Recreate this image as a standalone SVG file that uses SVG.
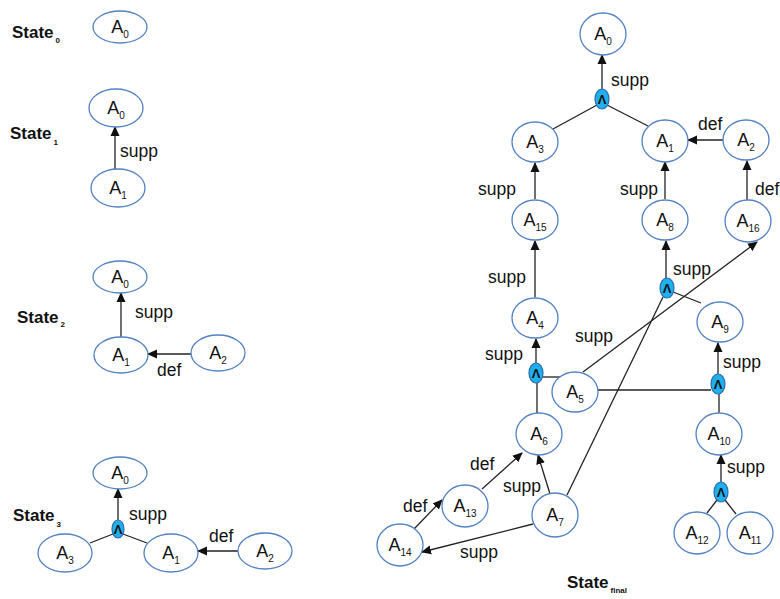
<svg xmlns="http://www.w3.org/2000/svg" width="780" height="599" viewBox="0 0 780 599">
<style>
.n{fill:#fff;stroke:#5282c2;stroke-width:1.3}
.and{fill:#1fb0ee;stroke:#2a6cb0;stroke-width:1.2}
.t{font-family:"Liberation Sans",Arial,sans-serif;font-size:18px;fill:#111;text-anchor:middle}
.s{font-size:10px}
.ta{font-family:"Liberation Sans",Arial,sans-serif;font-size:13px;font-weight:bold;fill:#111;text-anchor:middle}
.l{font-family:"Liberation Sans",Arial,sans-serif;font-size:17.5px;fill:#111}
.st{font-family:"Liberation Sans",Arial,sans-serif;font-size:17px;font-weight:bold;fill:#111}
.ss{font-size:8px}
.c line{stroke:#222;stroke-width:1.3}
.c line.a{marker-end:url(#ah)}
</style>
<defs>
<marker id="ah" markerWidth="10" markerHeight="10" refX="9" refY="5" orient="auto" markerUnits="userSpaceOnUse">
<path d="M0,0.5 L10,5 L0,9.5 Z" fill="#111"/>
</marker>
</defs>
<rect width="780" height="599" fill="#fff"/>

<g id="connectors" class="c">
<!-- State1 -->
<line class="a" x1="115" y1="169" x2="115" y2="127"/>
<!-- State2 -->
<line class="a" x1="121" y1="337" x2="121" y2="293"/>
<line class="a" x1="191" y1="354" x2="148" y2="354"/>
<!-- State3 -->
<line class="a" x1="118" y1="520" x2="118" y2="489"/>
<line x1="113" y1="534" x2="90" y2="543"/>
<line x1="123" y1="534" x2="147" y2="543"/>
<line class="a" x1="238" y1="551" x2="198" y2="551"/>
<!-- final -->
<line class="a" x1="602" y1="89" x2="602" y2="55"/>
<line x1="597" y1="105" x2="553" y2="129"/>
<line x1="607" y1="105" x2="648" y2="126"/>
<line class="a" x1="723" y1="140" x2="688" y2="140"/>
<line class="a" x1="535" y1="199" x2="535" y2="163"/>
<line class="a" x1="665" y1="199" x2="665" y2="162"/>
<line class="a" x1="747" y1="200" x2="747" y2="161"/>
<line class="a" x1="535" y1="297" x2="535" y2="241"/>
<line class="a" x1="536" y1="363" x2="536" y2="339"/>
<line x1="537" y1="413" x2="537" y2="383"/>
<line x1="543" y1="377" x2="561" y2="377"/>
<line class="a" x1="583" y1="372" x2="757" y2="242"/>
<line class="a" x1="666" y1="278" x2="666" y2="241"/>
<line x1="673" y1="292" x2="701" y2="303"/>
<line x1="663" y1="297" x2="567" y2="495"/>
<line class="a" x1="718" y1="374" x2="718" y2="343"/>
<line x1="598" y1="390" x2="711" y2="390"/>
<line x1="719" y1="413" x2="719" y2="394"/>
<line class="a" x1="721" y1="482" x2="721" y2="455"/>
<line x1="717" y1="500" x2="707" y2="513"/>
<line x1="725" y1="500" x2="736" y2="514"/>
<line class="a" x1="482" y1="489" x2="522" y2="453"/>
<line class="a" x1="414" y1="529" x2="442" y2="500"/>
<line class="a" x1="550" y1="494" x2="538" y2="455"/>
<line class="a" x1="533" y1="524" x2="422" y2="552"/>
</g>

<g id="edge-labels">
<text class="l" x="120" y="157">supp</text>
<text class="l" x="135" y="318">supp</text>
<text class="l" x="157" y="376">def</text>
<text class="l" x="129" y="520">supp</text>
<text class="l" x="209" y="542">def</text>
<text class="l" x="611" y="86">supp</text>
<text class="l" x="698" y="130">def</text>
<text class="l" x="478" y="195">supp</text>
<text class="l" x="620" y="195">supp</text>
<text class="l" x="755" y="195">def</text>
<text class="l" x="488" y="283">supp</text>
<text class="l" x="673" y="275">supp</text>
<text class="l" x="575" y="342">supp</text>
<text class="l" x="485" y="360">supp</text>
<text class="l" x="723" y="368">supp</text>
<text class="l" x="727" y="473">supp</text>
<text class="l" x="470" y="470">def</text>
<text class="l" x="403" y="512">def</text>
<text class="l" x="503" y="492">supp</text>
<text class="l" x="460" y="558">supp</text>
</g>

<g id="state-labels">
<text class="st" x="12" y="38">State<tspan class="ss" dx="2" dy="5">0</tspan></text>
<text class="st" x="10" y="139">State<tspan class="ss" dx="2" dy="6">1</tspan></text>
<text class="st" x="17" y="323">State<tspan class="ss" dx="2" dy="4">2</tspan></text>
<text class="st" x="13" y="521">State<tspan class="ss" dx="2" dy="6">3</tspan></text>
<text class="st" x="567" y="588">State<tspan class="ss" dx="2" dy="5">final</tspan></text>
</g>

<!-- State0 -->
<g id="s0-A0"><ellipse class="n" cx="120" cy="27" rx="27" ry="16"/><text class="t" x="120" y="33">A<tspan class="s" dy="5">0</tspan></text></g>
<!-- State1 -->
<g id="s1-A0"><ellipse class="n" cx="116" cy="108" rx="27" ry="19"/><text class="t" x="116" y="114">A<tspan class="s" dy="5">0</tspan></text></g>
<g id="s1-A1"><ellipse class="n" cx="118" cy="188" rx="27" ry="19"/><text class="t" x="118" y="194">A<tspan class="s" dy="5">1</tspan></text></g>
<!-- State2 -->
<g id="s2-A0"><ellipse class="n" cx="120" cy="277" rx="27" ry="16"/><text class="t" x="120" y="283">A<tspan class="s" dy="5">0</tspan></text></g>
<g id="s2-A1"><ellipse class="n" cx="121" cy="355" rx="27" ry="18"/><text class="t" x="121" y="361">A<tspan class="s" dy="5">1</tspan></text></g>
<g id="s2-A2"><ellipse class="n" cx="218" cy="353" rx="27" ry="18"/><text class="t" x="218" y="359">A<tspan class="s" dy="5">2</tspan></text></g>
<!-- State3 -->
<g id="s3-A0"><ellipse class="n" cx="120" cy="473" rx="27" ry="16"/><text class="t" x="120" y="479">A<tspan class="s" dy="5">0</tspan></text></g>
<g id="s3-and"><ellipse class="and" cx="118" cy="529" rx="6" ry="9"/><text class="ta" x="118" y="534">Λ</text></g>
<g id="s3-A3"><ellipse class="n" cx="65" cy="553" rx="27" ry="19"/><text class="t" x="65" y="559">A<tspan class="s" dy="5">3</tspan></text></g>
<g id="s3-A1"><ellipse class="n" cx="171" cy="553" rx="27" ry="19"/><text class="t" x="171" y="559">A<tspan class="s" dy="5">1</tspan></text></g>
<g id="s3-A2"><ellipse class="n" cx="265" cy="551" rx="27" ry="18"/><text class="t" x="265" y="557">A<tspan class="s" dy="5">2</tspan></text></g>

<!-- Final state -->
<g id="f-A0"><ellipse class="n" cx="603" cy="34" rx="23" ry="21"/><text class="t" x="603" y="40">A<tspan class="s" dy="5">0</tspan></text></g>
<g id="f-A3"><ellipse class="n" cx="535" cy="142" rx="23" ry="20"/><text class="t" x="535" y="148">A<tspan class="s" dy="5">3</tspan></text></g>
<g id="f-A1"><ellipse class="n" cx="665" cy="141" rx="23" ry="21"/><text class="t" x="665" y="147">A<tspan class="s" dy="5">1</tspan></text></g>
<g id="f-A2"><ellipse class="n" cx="746" cy="140" rx="23" ry="20"/><text class="t" x="746" y="146">A<tspan class="s" dy="5">2</tspan></text></g>
<g id="f-A15"><ellipse class="n" cx="535" cy="220" rx="23" ry="20"/><text class="t" x="535" y="226">A<tspan class="s" dy="5">15</tspan></text></g>
<g id="f-A8"><ellipse class="n" cx="665" cy="220" rx="23" ry="20"/><text class="t" x="665" y="226">A<tspan class="s" dy="5">8</tspan></text></g>
<g id="f-A16"><ellipse class="n" cx="748" cy="221" rx="23" ry="21"/><text class="t" x="748" y="227">A<tspan class="s" dy="5">16</tspan></text></g>
<g id="f-A4"><ellipse class="n" cx="535" cy="318" rx="23" ry="20"/><text class="t" x="535" y="324">A<tspan class="s" dy="5">4</tspan></text></g>
<g id="f-A9"><ellipse class="n" cx="720" cy="322" rx="23" ry="20"/><text class="t" x="720" y="328">A<tspan class="s" dy="5">9</tspan></text></g>
<g id="f-A5"><ellipse class="n" cx="575" cy="392" rx="23" ry="20"/><text class="t" x="575" y="398">A<tspan class="s" dy="5">5</tspan></text></g>
<g id="f-A6"><ellipse class="n" cx="539" cy="434" rx="23" ry="21"/><text class="t" x="539" y="440">A<tspan class="s" dy="5">6</tspan></text></g>
<g id="f-A10"><ellipse class="n" cx="719" cy="434" rx="23" ry="21"/><text class="t" x="719" y="440">A<tspan class="s" dy="5">10</tspan></text></g>
<g id="f-A13"><ellipse class="n" cx="465" cy="506" rx="23" ry="21"/><text class="t" x="465" y="512">A<tspan class="s" dy="5">13</tspan></text></g>
<g id="f-A7"><ellipse class="n" cx="555" cy="515" rx="23" ry="22"/><text class="t" x="555" y="521">A<tspan class="s" dy="5">7</tspan></text></g>
<g id="f-A14"><ellipse class="n" cx="400" cy="545" rx="23" ry="21"/><text class="t" x="400" y="551">A<tspan class="s" dy="5">14</tspan></text></g>
<g id="f-A12"><ellipse class="n" cx="697" cy="533" rx="23" ry="21"/><text class="t" x="697" y="539">A<tspan class="s" dy="5">12</tspan></text></g>
<g id="f-A11"><ellipse class="n" cx="750" cy="533" rx="23" ry="21"/><text class="t" x="750" y="539">A<tspan class="s" dy="5">11</tspan></text></g>

<g id="f-and1"><ellipse class="and" cx="602" cy="99" rx="7" ry="10"/><text class="ta" x="602" y="104">Λ</text></g>
<g id="f-and2"><ellipse class="and" cx="536" cy="373" rx="7" ry="10"/><text class="ta" x="536" y="378">Λ</text></g>
<g id="f-and3"><ellipse class="and" cx="667" cy="288" rx="7" ry="10"/><text class="ta" x="667" y="293">Λ</text></g>
<g id="f-and4"><ellipse class="and" cx="718" cy="384" rx="7" ry="10"/><text class="ta" x="718" y="389">Λ</text></g>
<g id="f-and5"><ellipse class="and" cx="721" cy="492" rx="7" ry="10"/><text class="ta" x="721" y="497">Λ</text></g>
</svg>
